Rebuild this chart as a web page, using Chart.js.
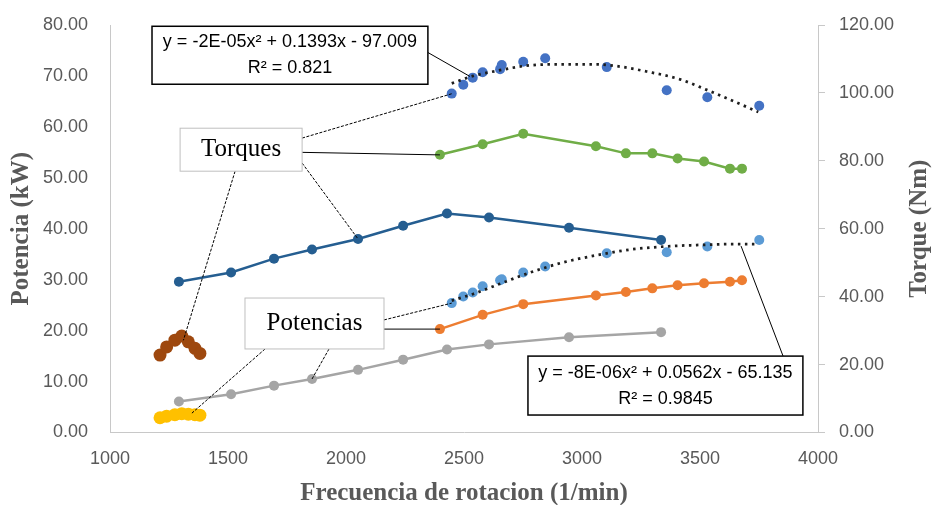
<!DOCTYPE html>
<html lang="es">
<head>
    <meta charset="UTF-8" />
    <title>Potencia y torque vs frecuencia de rotacion</title>
    <script src="https://cdn.jsdelivr.net/npm/chart.js@4.4.1/dist/chart.umd.min.js"></script>
    <style>
        html, body { margin: 0; padding: 0; background: #ffffff; }
        #wrap { width: 932px; height: 505px; position: relative; }
    </style>
</head>
<body>
<div id="wrap"><canvas id="chart"></canvas></div>
<script>
    // === Datos ===
    // serie 1: torque azul oscuro (Nm) y potencia gris (kW)
    const rpm1 = [1292, 1513, 1695, 1856, 2051, 2242, 2428, 2606, 2945, 3335];
    const torque1 = [44.4, 47.1, 51.2, 53.9, 57.0, 60.9, 64.5, 63.3, 60.3, 56.7];
    const power1 = [6.1, 7.5, 9.2, 10.5, 12.3, 14.3, 16.3, 17.3, 18.7, 19.7];

    // serie 2: torque verde (Nm) y potencia naranja (kW)
    const rpm2 = [2398, 2579, 2751, 3059, 3186, 3298, 3405, 3517, 3627, 3678];
    const torque2 = [81.8, 84.9, 88.0, 84.3, 82.2, 82.2, 80.7, 79.8, 77.7, 77.7];
    const power2 = [20.3, 23.1, 25.2, 26.9, 27.6, 28.3, 28.9, 29.3, 29.6, 29.9];

    // serie 3: puntos sueltos con linea de tendencia
    const rpm3 = [2448, 2497, 2537, 2579, 2653, 2660, 2751, 2844, 3105, 3359, 3531, 3751];
    const torque3 = [99.8, 102.4, 104.5, 106.1, 107.0, 108.2, 109.2, 110.2, 107.6, 100.8, 98.7, 96.2];
    const power3 = [25.4, 26.7, 27.5, 28.7, 29.9, 30.1, 31.4, 32.6, 35.2, 35.4, 36.5, 37.8];

    // serie 4: torque marron (Nm) y potencia amarilla (kW)
    const rpm4 = [1212, 1240, 1275, 1304, 1332, 1360, 1381];
    const torque4 = [22.8, 25.2, 27.2, 28.4, 26.7, 24.8, 23.3];
    const power4 = [2.9, 3.2, 3.5, 3.7, 3.6, 3.5, 3.4];

    // lineas de tendencia (polinomicas)
    const trendTorqueRpm = [2448, 2539, 2639, 2751, 2864, 3062, 3147, 3274, 3415, 3556, 3747];
    const trendTorque = [102.8, 105.0, 106.5, 107.9, 108.4, 108.4, 107.9, 106.3, 104.0, 100.1, 94.4];
    const trendPowerRpm = [2448, 2539, 2653, 2780, 2921, 3062, 3203, 3345, 3486, 3677, 3747];
    const trendPower = [25.9, 27.2, 29.2, 31.4, 33.4, 34.8, 35.9, 36.5, 36.8, 37.0, 37.0];

    // ticks
    const xTicks = [1000, 1500, 2000, 2500, 3000, 3500, 4000];
    const powerTicks = [0, 10, 20, 30, 40, 50, 60, 70, 80];
    const torqueTicks = [0, 20, 40, 60, 80, 100, 120];

    const xTitle = "Frecuencia de rotacion (1/min)";
    const powerTitle = "Potencia (kW)";
    const torqueTitle = "Torque (Nm)";

    // === Helpers ===
    const pts = (xs, ys) => xs.map((x, i) => ({ x: x, y: ys[i] }));
    const TICK_FONT = { family: "'Liberation Sans', Arial, sans-serif", size: 18 };
    const GREY = "#595959";
    const AXIS = "#C8C8C8";

    function series(label, xs, ys, color, axis, width, radius) {
        return {
            label: label,
            data: pts(xs, ys),
            yAxisID: axis,
            showLine: true,
            borderColor: color,
            backgroundColor: color,
            borderWidth: width || 2.5,
            pointRadius: radius || 5,
            pointHoverRadius: radius || 5,
            pointBorderWidth: 0,
            tension: 0
        };
    }

    function scatter(label, xs, ys, color, axis) {
        return {
            label: label,
            data: pts(xs, ys),
            yAxisID: axis,
            showLine: false,
            backgroundColor: color,
            pointRadius: 5,
            pointHoverRadius: 5,
            pointBorderWidth: 0
        };
    }

    function trend(label, xs, ys, axis) {
        return {
            label: label,
            data: pts(xs, ys),
            yAxisID: axis,
            showLine: true,
            borderColor: "#1e1e1e",
            borderWidth: 2.75,
            borderDash: [2.5, 4.5],
            pointRadius: 0,
            cubicInterpolationMode: "monotone"
        };
    }

    // === Cuadros de texto y lineas guia (coordenadas en rpm / kW) ===
    const callouts = [
        { x0: 1178, x1: 2347, y0: 79.75, y1: 68.37, border: "#000000", bw: 1.5,
          font: "18px 'Liberation Sans', Arial, sans-serif",
          lines: ["y = -2E-05x\u00B2 + 0.1393x - 97.009", "R\u00B2 = 0.821"] },
        { x0: 1297, x1: 1814, y0: 59.74, y1: 51.3, border: "#BFBFBF", bw: 1,
          font: "25px 'Liberation Serif', 'Times New Roman', serif",
          lines: ["Torques"] },
        { x0: 1572, x1: 2161, y0: 26.4, y1: 16.4, border: "#BFBFBF", bw: 1,
          font: "25px 'Liberation Serif', 'Times New Roman', serif",
          lines: ["Potencias"] },
        { x0: 2771, x1: 3936, y0: 15.0, y1: 3.43, border: "#000000", bw: 1.5,
          font: "18px 'Liberation Sans', Arial, sans-serif",
          lines: ["y = -8E-06x\u00B2 + 0.0562x - 65.135", "R\u00B2 = 0.9845"] }
    ];

    const leaders = [
        { from: [2347, 74.6], to: [2525, 69.9], dash: [] },
        { from: [1814, 57.8], to: [2448, 66.5], dash: [3, 1.5] },
        { from: [1814, 55.0], to: [2398, 54.5], dash: [] },
        { from: [1814, 52.9], to: [2051, 38.0], dash: [3, 1.5] },
        { from: [1530, 51.3], to: [1311, 18.1], dash: [3, 1.5] },
        { from: [2161, 22.1], to: [2448, 25.4], dash: [3, 1.5] },
        { from: [2161, 20.3], to: [2398, 20.3], dash: [] },
        { from: [1928, 16.4], to: [1856, 10.5], dash: [3, 1.5] },
        { from: [1657, 16.4], to: [1347, 3.8], dash: [3, 1.5] },
        { from: [3852, 15.0], to: [3674, 36.6], dash: [] }
    ];

    const calloutPlugin = {
        id: "callouts",
        afterDatasetsDraw(chart) {
            const ctx = chart.ctx;
            const sx = chart.scales.x, sy = chart.scales.y;
            ctx.save();
            // lineas guia
            ctx.strokeStyle = "#000000";
            ctx.lineWidth = 1;
            leaders.forEach((l) => {
                ctx.setLineDash(l.dash);
                ctx.beginPath();
                ctx.moveTo(sx.getPixelForValue(l.from[0]), sy.getPixelForValue(l.from[1]));
                ctx.lineTo(sx.getPixelForValue(l.to[0]), sy.getPixelForValue(l.to[1]));
                ctx.stroke();
            });
            ctx.setLineDash([]);
            // cuadros
            callouts.forEach((c) => {
                const left = sx.getPixelForValue(c.x0), right = sx.getPixelForValue(c.x1);
                const top = sy.getPixelForValue(c.y0), bottom = sy.getPixelForValue(c.y1);
                ctx.fillStyle = "#ffffff";
                ctx.fillRect(left, top, right - left, bottom - top);
                ctx.strokeStyle = c.border;
                ctx.lineWidth = c.bw;
                ctx.strokeRect(left, top, right - left, bottom - top);
                ctx.fillStyle = "#000000";
                ctx.font = c.font;
                ctx.textAlign = "center";
                ctx.textBaseline = "middle";
                const cx = (left + right) / 2, cy = (top + bottom) / 2;
                const step = 26;
                c.lines.forEach((t, i) => {
                    ctx.fillText(t, cx, cy + (i - (c.lines.length - 1) / 2) * step);
                });
            });
            ctx.restore();
        },
        afterDraw(chart) {
            // titulos de ejes
            const ctx = chart.ctx;
            const area = chart.chartArea;
            const midY = (area.top + area.bottom) / 2;
            ctx.save();
            ctx.fillStyle = GREY;
            ctx.font = "bold 25px 'Liberation Serif', 'Times New Roman', serif";
            ctx.textAlign = "center";
            ctx.textBaseline = "middle";
            ctx.fillText(xTitle, (area.left + area.right) / 2, 494);
            ctx.translate(22, midY);
            ctx.rotate(-Math.PI / 2);
            ctx.fillText(powerTitle, 0, 0);
            ctx.restore();
            ctx.save();
            ctx.fillStyle = GREY;
            ctx.font = "bold 25px 'Liberation Serif', 'Times New Roman', serif";
            ctx.textAlign = "center";
            ctx.textBaseline = "middle";
            ctx.translate(920, midY);
            ctx.rotate(-Math.PI / 2);
            ctx.fillText(torqueTitle, 0, 0);
            ctx.restore();
        }
    };

    const setTicks = (values) => (scale) => {
        scale.ticks = values.map((v) => ({ value: v }));
    };
    const fixWidth = (w) => (s) => {
        s.width = w;
        s.paddingTop = 0;
        s.paddingBottom = 0;
    };

    new Chart(document.getElementById("chart"), {
        type: "scatter",
        data: {
            datasets: [
                trend("Tendencia torque", trendTorqueRpm, trendTorque, "y1"),
                trend("Tendencia potencia", trendPowerRpm, trendPower, "y"),
                scatter("Torque 3", rpm3, torque3, "#4472C4", "y1"),
                scatter("Potencia 3", rpm3, power3, "#5B9BD5", "y"),
                series("Torque 1", rpm1, torque1, "#255E91", "y1"),
                series("Torque 2", rpm2, torque2, "#70AD47", "y1"),
                series("Potencia 2", rpm2, power2, "#ED7D31", "y"),
                series("Potencia 1", rpm1, power1, "#A5A5A5", "y"),
                series("Torque 4", rpm4, torque4, "#9E480E", "y1", 6, 6.5),
                series("Potencia 4", rpm4, power4, "#FFC000", "y", 6, 6.5)
            ]
        },
        options: {
            responsive: true,
            maintainAspectRatio: false,
            animation: false,
            layout: { padding: { top: 25, left: 0, right: 0, bottom: 0 } },
            plugins: {
                legend: { display: false },
                tooltip: { enabled: false }
            },
            scales: {
                x: {
                    type: "linear",
                    min: 1000,
                    max: 4000,
                    afterBuildTicks: setTicks(xTicks),
                    afterFit: (s) => { s.height = 72.5; s.paddingLeft = 0; s.paddingRight = 0; },
                    grid: { display: false, drawTicks: false, tickLength: 0 },
                    border: { display: true, color: AXIS, width: 1 },
                    ticks: { color: GREY, font: TICK_FONT, padding: 16, maxRotation: 0,
                             callback: (v) => String(v) }
                },
                y: {
                    position: "left",
                    min: 0,
                    max: 80,
                    afterBuildTicks: setTicks(powerTicks),
                    afterFit: fixWidth(110),
                    grid: { display: false, drawTicks: false, tickLength: 0 },
                    border: { display: true, color: AXIS, width: 1 },
                    ticks: { color: GREY, font: TICK_FONT, padding: 22,
                             callback: (v) => Number(v).toFixed(2) }
                },
                y1: {
                    position: "right",
                    min: 0,
                    max: 120,
                    afterBuildTicks: setTicks(torqueTicks),
                    afterFit: fixWidth(114),
                    grid: { display: true, drawOnChartArea: false, drawTicks: true,
                            tickLength: 7, color: AXIS },
                    border: { display: true, color: AXIS, width: 1 },
                    ticks: { color: GREY, font: TICK_FONT, padding: 14,
                             callback: (v) => Number(v).toFixed(2) }
                }
            }
        },
        plugins: [calloutPlugin]
    });
</script>
</body>
</html>
